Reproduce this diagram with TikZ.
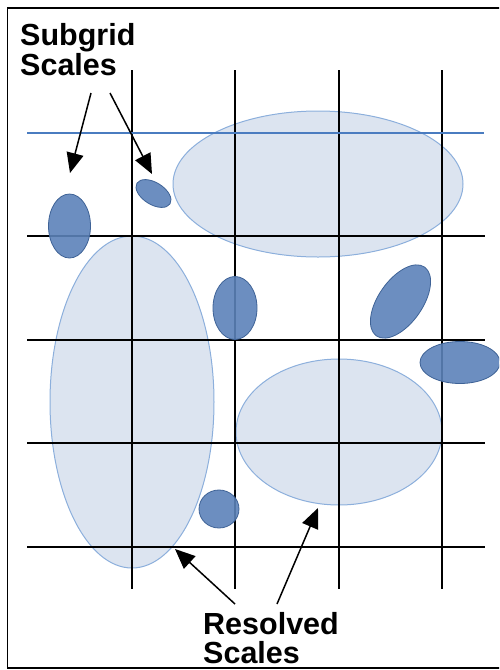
\documentclass[tikz,border=0pt]{standalone}
\usepackage{fontspec}
\setmainfont{Liberation Sans}
\usetikzlibrary{arrows.meta}
\definecolor{lightfill}{RGB}{220,228,240}
\definecolor{lightedge}{RGB}{140,175,220}
\definecolor{darkfill}{RGB}{92,130,185}
\definecolor{darkedge}{RGB}{62,98,150}
\definecolor{blueline}{RGB}{74,124,192}
\tikzset{
  bigblob/.style={fill=lightfill,draw=lightedge,line width=1pt},
  smallblob/.style={fill=darkfill,draw=darkedge,line width=0.8pt,fill opacity=0.9},
  gridline/.style={draw=black,line width=1.8pt},
  pointer/.style={-{Triangle[length=20pt,width=17pt]},line width=1.5pt,black},
  lbl/.style={font=\fontsize{30.5}{30}\selectfont\bfseries,inner sep=0pt,anchor=base west}
}
\begin{document}
\begin{tikzpicture}[x=1pt,y=-1pt]
\useasboundingbox (0,0) rectangle (499,670);
\clip (0,0) rectangle (499,670);
% frame
\draw[line width=1.5pt] (7.5,8) rectangle (520,668);
% resolved scales (large light ellipses)
\draw[bigblob] (318,184) ellipse [x radius=145, y radius=73];
\draw[bigblob] (132,402) ellipse [x radius=82, y radius=166];
\draw[bigblob] (339,432) ellipse [x radius=103, y radius=73];
% grid
\foreach \x in {132,235,339,442} \draw[gridline] (\x,70) -- (\x,589);
\foreach \y in {236,340,443,547} \draw[gridline] (27,\y) -- (485,\y);
\draw[blueline,line width=1.3pt] (27,133) -- (484,133);
% subgrid scales (small dark ellipses)
\draw[smallblob] (69.5,226) ellipse [x radius=21, y radius=32];
\draw[smallblob,rotate around={-32:(153.5,193.5)}] (153.5,193.5) ellipse [x radius=19.5, y radius=11];
\draw[smallblob] (235,308) ellipse [x radius=22, y radius=31.5];
\draw[smallblob,rotate around={55:(400.5,301.5)}] (400.5,301.5) ellipse [x radius=42, y radius=22];
\draw[smallblob] (460,362.5) ellipse [x radius=40, y radius=21];
\draw[smallblob] (219,509) ellipse [x radius=20, y radius=19];
% labels
\node[lbl] (sg1) at (20,45) {Subgrid};
\node[lbl] (sg2) at (20,75) {Scales};
\node[lbl] (rs1) at (203,634) {Resolved};
\node[lbl] (rs2) at (203,663) {Scales};
% arrow ends
\coordinate (a1s) at (91,93);  \coordinate (a1e) at (70,173);
\coordinate (a2s) at (110,93); \coordinate (a2e) at (152,174);
\coordinate (a3s) at (235,604); \coordinate (a3e) at (175,549);
\coordinate (a4s) at (277,604); \coordinate (a4e) at (318,508);
\draw[pointer] (a1s) -- (a1e);
\draw[pointer] (a2s) -- (a2e);
\draw[pointer] (a3s) -- (a3e);
\draw[pointer] (a4s) -- (a4e);
\end{tikzpicture}
\end{document}
